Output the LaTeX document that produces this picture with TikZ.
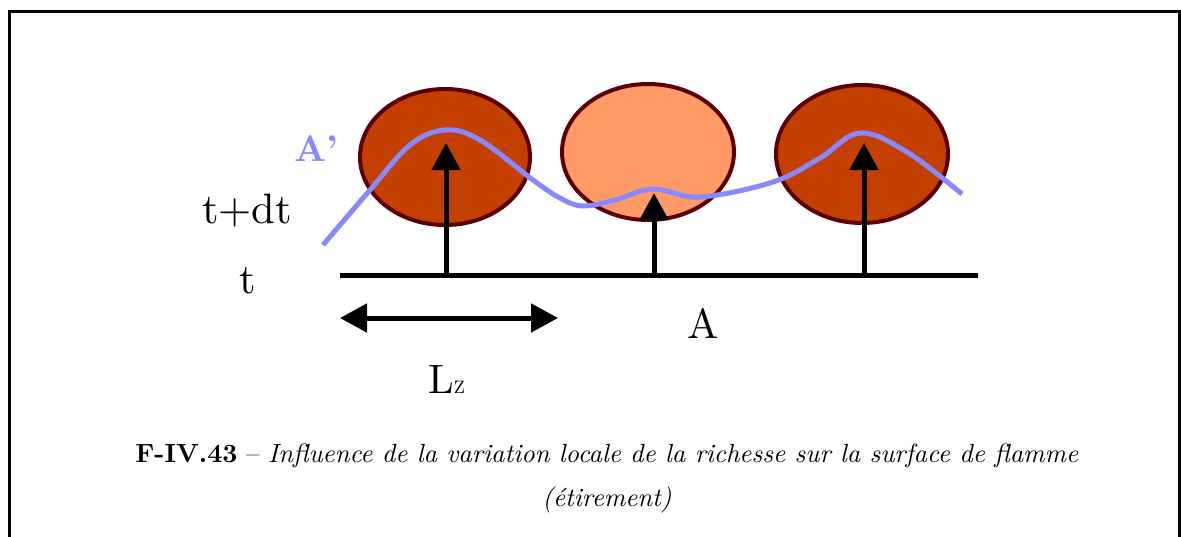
\documentclass[tikz,border=0pt]{standalone}
\usepackage{fontspec}
\setmainfont{lmroman10-regular.otf}[BoldFont=lmroman10-bold.otf,ItalicFont=lmroman10-italic.otf,BoldItalicFont=lmroman10-bolditalic.otf]
\usetikzlibrary{arrows.meta}
\definecolor{flame}{RGB}{196,64,0}
\definecolor{flamelight}{RGB}{255,153,102}
\definecolor{rim}{RGB}{90,0,0}
\definecolor{front}{RGB}{136,136,255}
\begin{document}
\begin{tikzpicture}[x=1pt,y=-1pt,
  upar/.style={line width=5pt,-{Triangle[length=27pt,width=28pt]}},
  lbl/.style={inner sep=0pt,font=\fontsize{42.6}{46}\selectfont},
  captext/.style={inner sep=0pt,font=\fontsize{26.3}{30}\selectfont}]
\useasboundingbox (0,0) rectangle (1181,536);
\draw[line width=3pt] (9,540) -- (9,11) -- (1179,11) -- (1179,540);
% flame pockets
\fill[flame] (445,157) ellipse [x radius=85, y radius=68];
\draw[rim,line width=4pt] (445,157) ellipse [x radius=85, y radius=68];
\fill[flamelight] (648,152) ellipse [x radius=86, y radius=68];
\draw[rim,line width=4pt] (648,152) ellipse [x radius=86, y radius=68];
\fill[flame] (862,154) ellipse [x radius=86, y radius=69];
\draw[rim,line width=4pt] (862,154) ellipse [x radius=86, y radius=69];
% base line
\coordinate (b0) at (340,275);
\coordinate (b1) at (978,275);
\draw[line width=5pt] (b0) -- (b1);
\coordinate (f1) at (446,275); \coordinate (t1) at (446,143);
\coordinate (f2) at (654,275); \coordinate (t2) at (654,193);
\coordinate (f3) at (864,275); \coordinate (t3) at (864,143);
\draw[upar] (f1) -- (t1);
\draw[upar] (f2) -- (t2);
\draw[upar] (f3) -- (t3);
% flame front
\draw[front,line width=5pt,line join=round] plot[smooth,tension=0.6] coordinates {
 (323,245) (370,190) (410,145) (445,130) (480,140) (533,180) (560,198) (583,206)
 (615,200) (653,189) (700,197) (773,182) (820,158) (860,133) (907,152) (962,194)};
% length arrow
\coordinate (l0) at (340,318);
\coordinate (l1) at (558,318);
\draw[line width=5pt,{Triangle[length=27pt,width=28pt]}-{Triangle[length=27pt,width=28pt]}] (l0) -- (l1);
% labels
\node[lbl] (tdt) at (247,210) {t+dt};
\node[lbl] (t) at (248,281) {t};
\node[inner sep=0pt,font=\fontsize{42}{46}\selectfont] (A) at (703,323) {A};
\node[inner sep=0pt,font=\fontsize{41}{46}\selectfont,anchor=base west] (Lz) at (428,393) {L{\fontsize{18}{18}\selectfont Z}};
\node[inner sep=0pt,text=front,font=\fontsize{37}{40}\selectfont\bfseries] (Ap) at (316,149) {A'};
% caption
\node[captext] (cap1) at (607,456) {\textbf{F-IV.43} -- \textit{Influence de la variation locale de la richesse sur la surface de flamme}};
\node[captext] (cap2) at (607,500) {\textit{(étirement)}};
\end{tikzpicture}
\end{document}
